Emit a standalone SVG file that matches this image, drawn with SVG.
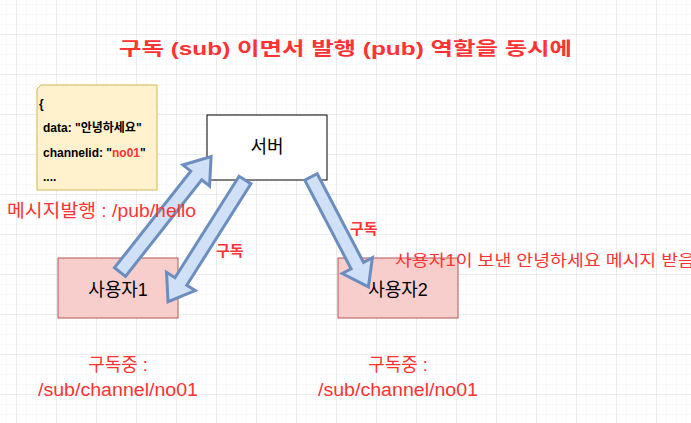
<svg xmlns="http://www.w3.org/2000/svg" width="691" height="423" viewBox="0 0 691 423">
<defs>
<pattern id="minor" width="10" height="10" patternUnits="userSpaceOnUse" x="7" y="5"><path d="M10 0V10M0 10H10" fill="none" stroke="#f2f2f2" stroke-width="1"/></pattern>
<pattern id="major" width="40" height="40" patternUnits="userSpaceOnUse" x="17" y="35"><path d="M40 0V40M0 40H40" fill="none" stroke="#dcdcdc" stroke-width="1"/></pattern>
</defs>
<style>
.t{font-family:"Liberation Sans","Noto Sans CJK KR",sans-serif}
.red{fill:#ff3333}
.arr{fill:#cfe0f7;stroke:#6c8ebf;stroke-width:3;stroke-linejoin:miter}
</style>
<rect width="691" height="423" fill="#fff"/>
<rect width="691" height="423" fill="url(#minor)"/>
<rect width="691" height="423" fill="url(#major)"/>
<text class="t red" x="119" y="55" font-size="18" font-weight="bold" textLength="453" lengthAdjust="spacingAndGlyphs">구독 (sub) 이면서 발행 (pub) 역할을 동시에</text>
<g id="note">
<path d="M41,85H157V190H37V89Z" fill="#fff2cc" stroke="#d6b656"/>
<g class="t" font-size="12" font-weight="bold">
<text x="39" y="108">{</text>
<text x="43" y="132">data: "안녕하세요"</text>
<text x="43" y="157">channelid: "<tspan fill="#ff3333">no01</tspan>"</text>
<text x="43" y="181">....</text>
</g>
</g>
<g id="server"><rect x="207" y="115" width="120" height="65" fill="#fff" stroke="#000"/><text class="t" x="267" y="153" text-anchor="middle" font-size="18">서버</text></g>
<g id="user1"><rect x="58" y="258" width="120" height="60" fill="#f8cecc" stroke="#b85450"/><text class="t" x="118" y="296" text-anchor="middle" font-size="18">사용자1</text></g>
<g id="user2"><rect x="338" y="258" width="120" height="60" fill="#f8cecc" stroke="#b85450"/><text class="t" x="398" y="296" text-anchor="middle" font-size="18">사용자2</text></g>
<g id="connectors">
<g transform="translate(120,272) rotate(-51.7)"><polygon class="arr" points="0,-7 123,-7 123,-17 147,0 123,17 123,7 0,7"/></g>
<g transform="translate(245,180) rotate(122.3)"><polygon class="arr" points="0,-7 120,-7 120,-17 144,0 120,17 120,7 0,7"/></g>
<g transform="translate(311,177) rotate(62.4)"><polygon class="arr" points="0,-7 100,-7 100,-17 124,0 100,17 100,7 0,7"/></g>
</g>
<g class="t red" font-size="18">
<text x="7" y="217" textLength="189" lengthAdjust="spacingAndGlyphs">메시지발행 : /pub/hello</text>
<text x="118" y="371" text-anchor="middle">구독중 :</text>
<text x="118" y="396" text-anchor="middle" textLength="160" lengthAdjust="spacingAndGlyphs">/sub/channel/no01</text>
<text x="398" y="371" text-anchor="middle">구독중 :</text>
<text x="398" y="396" text-anchor="middle" textLength="160" lengthAdjust="spacingAndGlyphs">/sub/channel/no01</text>
<text x="395" y="266" font-size="16" textLength="305" lengthAdjust="spacingAndGlyphs">사용자1이 보낸 안녕하세요 메시지 받음.</text>
</g>
<g class="t red" font-size="15" font-weight="bold">
<text x="216" y="256">구독</text>
<text x="350" y="234">구독</text>
</g>
</svg>
